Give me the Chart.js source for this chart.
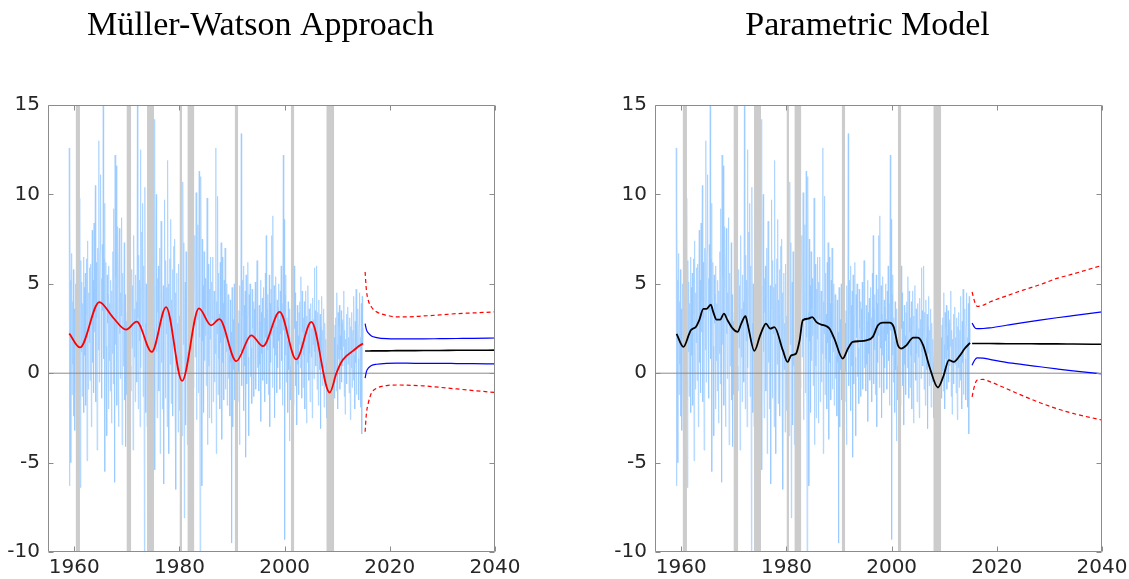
<!DOCTYPE html>
<html>
<head>
<meta charset="utf-8">
<script src="https://cdn.jsdelivr.net/npm/chart.js@4.4.1/dist/chart.umd.min.js"></script>
<style>
  html, body { margin: 0; padding: 0; background: #fff; }
  #wrap { position: relative; width: 1129px; height: 579px; overflow: hidden; }
  canvas { position: absolute; top: 0; }
</style>
</head>
<body>
<div id="wrap">
  <canvas id="mwChart" width="530" height="579" style="left:0"></canvas>
  <canvas id="pmChart" width="530" height="579" style="left:607px"></canvas>
</div>
<script>
// Axes
const xMin = 1955, xMax = 2040;
const xTicks = [1960, 1980, 2000, 2020, 2040];
const yTicks = [-10, -5, 0, 5, 10, 15];
const panelTitles = ['Müller-Watson Approach', 'Parametric Model'];

// NBER recessions, start / end as fractional years
const recessions = [
    [1960.25, 1961.08], [1969.92, 1970.83], [1973.83, 1975.17], [1980.0, 1980.5],
    [1981.5, 1982.83], [1990.5, 1991.17], [2001.17, 2001.83], [2007.92, 2009.42]
];

// Monthly growth rate, Jan 1959 - Dec 2014, one row per year
const startYear = 1959;
const monthlyGrowth = [
    12.6, -6.3, 8.4, 5.2, -5.0, 3.1, 6.7, -1.2, 4.0, 0.5, 5.8, -2.4,
    3.6, -3.2, 2.1, 5.0, -0.8, 1.4, -2.6, 3.2, -1.9, 0.9, 2.7, -1.5,
    4.2, 9.8, -6.4, 6.3, 1.2, 5.1, -1.3, 3.9, 2.4, 6.5, -2.2, 4.8,
    1.0, 5.6, -1.8, 3.3, 6.4, -4.9, 7.4, 2.0, -0.9, 4.5, 1.7, 5.9,
    -0.4, 3.8, 6.1, -3.0, 4.9, 8.0, 0.6, 5.2, -1.1, 8.4, 2.3, 4.0,
    10.5, -1.6, 6.2, 3.1, -4.3, 5.4, 7.0, 1.3, 13.0, -0.5, 4.6, 6.8,
    11.1, 2.6, 5.3, -1.4, 7.2, 3.5, 15.0, 0.8, 6.4, 9.5, -5.5, 4.1,
    6.2, 1.5, -3.5, 5.5, 2.8, 4.4, -2.0, 6.0, 0.7, 3.9, -1.0, 5.2,
    2.0, -2.8, 4.6, 1.1, 6.8, -0.6, 9.2, 3.0, -6.1, 12.2, 1.6, 5.4,
    11.6, -1.8, 4.8, 8.2, 0.9, -3.0, 5.7, 8.1, 2.2, -0.3, 4.5, 3.2,
    8.7, -4.0, 2.5, 5.6, 0.4, 3.7, 7.3, -1.5, 4.4, -4.1, 2.9, 1.0,
    -1.2, 3.4, -2.5, 1.8, 0.2, 2.9, -3.6, 1.5, 0.4, -1.0, 2.2, 5.8,
    1.4, 4.9, -4.3, 6.2, 7.7, 0.9, 3.6, -1.6, 5.5, 2.4, 4.0, -0.5,
    15.0, 3.1, -2.0, 6.6, 1.8, 5.2, -3.0, 12.5, 0.3, 4.7, 7.9, 2.6,
    9.5, -1.3, 4.2, 6.0, -10.0, 10.4, 2.8, -2.2, 5.0, 1.5, -3.0, 2.4,
    -1.5, 1.8, -3.7, 2.2, 0.5, -2.8, 3.0, -0.4, 1.6, -2.2, 0.2, -3.1,
    1.0, -2.0, 2.5, 14.2, -5.4, 4.8, 7.6, 10.0, 1.2, -2.5, 5.3, 3.4,
    6.0, -1.0, 4.2, 7.0, -4.5, 3.1, 8.5, 0.6, 5.4, -2.0, 2.7, 4.9,
    -6.2, 3.6, 9.7, 1.9, -1.4, 6.3, 2.2, 4.8, -3.0, 11.9, 0.8, 5.0,
    -4.5, 3.9, 6.4, 0.5, 8.6, -1.7, 4.1, 2.5, 5.8, -2.4, 3.2, 7.1,
    1.3, 7.5, -1.9, 4.5, -6.5, 3.0, 5.6, 0.2, 2.8, -3.3, 6.1, 1.5,
    -2.1, 3.2, -0.6, 2.4, -1.8, 1.0, -3.5, 4.0, 10.7, 1.6, 7.3, -8.1,
    2.6, 5.1, -2.9, 6.8, 0.4, 3.7, -4.0, 1.2, -1.5, 2.3, -2.7, 0.6,
    1.9, -3.2, 0.8, 2.6, -1.0, 3.5, -4.0, 1.4, -0.8, 2.0, 5.5, 7.7,
    0.9, 4.4, 10.1, -2.6, 6.2, 3.0, 8.3, -1.1, 5.7, 11.3, 2.0, -10.0,
    6.4, 11.0, 3.4, -6.3, 7.5, 1.8, 4.9, -2.2, 6.8, 0.7, 3.6, 5.3,
    2.1, -0.7, 4.3, 9.8, -4.0, 3.2, 6.1, 0.4, -2.5, 4.7, 1.9, 6.5,
    1.3, -2.8, 5.1, 3.0, 6.5, -1.6, 2.4, 4.6, -0.5, 3.8, 1.1, 12.6,
    -4.5, 4.0, 2.2, 9.9, -1.2, 5.6, 0.8, 3.3, -2.0, 6.2, 1.7, 7.3,
    4.1, -3.7, 6.5, 0.6, 3.9, -1.5, 5.2, 2.0, 7.0, -0.9, 3.4, 1.2,
    5.0, -1.8, 2.7, 4.4, -0.3, 3.5, 1.0, -2.4, 4.1, 0.6, 2.3, -9.5,
    4.8, 1.9, -3.0, 3.0, 0.2, 5.0, -1.5, 2.2, -0.8, 1.4, -2.0, 0.5,
    1.0, -1.6, 2.8, 0.1, 3.5, -4.0, 4.9, 1.2, 6.0, 13.4, -0.7, 3.3,
    5.2, 1.5, 6.0, -2.1, 3.8, 0.4, 4.6, -4.7, 5.5, 2.7, -0.6, 3.2,
    6.2, 0.9, -3.5, 4.4, 2.0, 5.0, -0.2, 3.1, 1.4, -1.7, 4.7, 2.5,
    0.6, 4.0, -1.3, 3.6, 1.9, 5.1, -0.9, 2.4, 4.5, 6.3, 0.3, 3.0,
    1.7, -1.0, 3.8, 0.5, 2.9, 5.2, -2.7, 3.4, 1.1, 4.2, -0.4, 2.6,
    4.8, 0.8, 3.1, -1.6, 5.6, 2.0, 7.7, -0.6, 3.6, 1.3, 4.4, -1.2,
    2.3, 5.5, -3.0, 3.9, 0.6, 4.7, 2.1, 7.7, -0.8, 8.8, 2.9, 1.4,
    4.9, -2.5, 3.3, 1.0, 5.4, 2.6, -1.1, 4.1, 0.3, 3.7, 5.0, 1.8,
    3.0, -0.9, 4.6, 2.2, 6.0, 0.7, 3.9, -1.8, 5.1, 12.2, 2.4, 8.6,
    -9.3, 4.4, 1.0, 5.5, -0.5, 3.1, 1.8, -2.2, 4.0, 0.2, 2.7, -3.8,
    3.6, 0.4, -1.5, 2.0, -3.0, 1.1, -0.6, 1.9, -1.8, 0.8, 6.0, 2.5,
    4.5, -0.7, 2.9, 1.2, -2.9, 3.8, 0.5, 2.1, -1.2, 3.4, 1.6, 4.0,
    0.3, 5.4, 1.8, -1.4, 4.6, 2.3, -0.8, 3.1, 1.0, 4.0, -2.0, 2.7,
    4.6, 1.5, -2.8, 3.2, 0.6, 4.9, 2.2, -0.4, 3.6, 1.1, -1.6, 2.8,
    3.9, 0.9, 2.5, -2.5, 4.2, 1.6, 3.0, -0.3, 5.9, 1.2, 3.5, 0.4,
    2.3, 6.0, -0.9, 3.4, 1.5, -1.8, 4.1, 2.0, 0.2, 3.3, -3.1, 2.6,
    1.1, 4.3, -0.7, 2.4, 0.3, 3.6, -1.9, 1.4, 2.8, -0.5, 1.9, 0.6,
    -2.5, 0.9, -1.3, 1.5, -0.2, 2.2, -2.4, 0.1, -1.6, 1.0, -3.0, -0.8,
    -4.0, 0.5, -1.9, 1.2, -0.7, 2.0, -1.4, 2.7, 0.1, 3.1, -1.0, 4.5,
    1.6, -2.0, 3.4, 0.8, 2.6, 3.8, -0.9, 2.1, 1.3, 3.5, -0.5, 2.8,
    0.4, 3.0, 1.5, 4.6, -1.3, 2.4, -2.3, 1.9, 0.7, 3.3, -0.6, 2.2,
    3.7, 0.5, 2.0, -1.1, 3.1, 1.2, -2.6, 2.6, 0.3, 3.4, -0.8, 1.8,
    2.4, -0.4, 4.3, 1.0, -2.0, 2.9, 0.6, 4.7, -1.2, 2.2, 1.4, 3.6,
    0.8, -1.5, 2.7, 4.5, 0.2, 2.0, -1.9, 3.9, -3.4, 4.3, 1.6, 2.5
];

// Müller-Watson low-frequency trend
const mwYears = [1959.05, 1961.08, 1964.76, 1967.3, 1969.84, 1971.87, 1974.73, 1977.46, 1980.5, 1983.7,
    1986.0, 1987.6, 1990.8, 1993.65, 1995.87, 1999.05, 2002.2, 2005.08, 2008.57, 2009.84,
    2010.8, 2011.7, 2013.0, 2013.9, 2014.9];
const mwTrend = [2.22, 1.44, 3.98, 3.14, 2.44, 2.89, 1.19, 3.70, -0.43, 3.62,
    2.68, 3.02, 0.67, 2.12, 1.51, 3.43, 0.77, 2.87, -1.08, 0.0,
    0.63, 0.95, 1.25, 1.47, 1.66];

// Müller-Watson forecast: median, 67% and 90% bands
const mwFcYears = [2015.3, 2015.55, 2015.9, 2016.5, 2017.5, 2019.4, 2021.3, 2023.2, 2026.4, 2029.5, 2032.7, 2035.9, 2040];
const mwFcMid = [1.24, 1.24, 1.24, 1.25, 1.25, 1.25, 1.26, 1.26, 1.27, 1.27, 1.28, 1.28, 1.29];
const mwFcHi67 = [2.77, 2.44, 2.25, 2.08, 1.99, 1.93, 1.92, 1.92, 1.92, 1.93, 1.94, 1.95, 1.97];
const mwFcLo67 = [-0.28, 0.09, 0.28, 0.43, 0.50, 0.55, 0.56, 0.56, 0.55, 0.55, 0.54, 0.53, 0.52];
const mwFcHi90 = [5.66, 4.64, 4.08, 3.70, 3.43, 3.24, 3.15, 3.15, 3.20, 3.26, 3.33, 3.37, 3.43];
const mwFcLo90 = [-3.27, -2.25, -1.68, -1.12, -0.84, -0.69, -0.66, -0.67, -0.71, -0.79, -0.88, -0.97, -1.08];

// Parametric model trend
const pmYears = [1959.1, 1960.4, 1961.5, 1961.8, 1962.8, 1963.4, 1964.2, 1964.8, 1965.6, 1966.1,
    1966.7, 1967.4, 1968.1, 1968.8, 1969.8, 1970.7, 1971.4, 1972.2, 1972.6, 1973.9,
    1974.9, 1975.5, 1976.1, 1976.9, 1977.7, 1979.3, 1980.2, 1980.9, 1981.8, 1982.5,
    1983.1, 1984.1, 1984.9, 1985.7, 1986.6, 1987.6, 1988.2, 1989.1, 1990.7, 1991.7,
    1992.6, 1993.9, 1995.2, 1996.4, 1997.4, 1998.3, 1999.6, 2000.4, 2001.2, 2001.8,
    2002.8, 2004.1, 2005.0, 2006.0, 2007.2, 2008.8, 2009.8, 2010.9, 2011.8, 2013.0,
    2013.9, 2014.9];
const pmTrend = [2.2, 1.47, 2.2, 2.4, 2.6, 2.95, 3.6, 3.6, 3.84, 3.4,
    3.0, 3.0, 3.33, 2.96, 2.49, 2.31, 2.77, 3.19, 2.77, 1.25,
    2.03, 2.49, 2.77, 2.49, 2.58, 1.29, 0.63, 1.0, 1.09, 1.84,
    2.96, 3.05, 3.14, 2.86, 2.72, 2.63, 2.49, 1.94, 0.82, 1.38,
    1.75, 1.79, 1.84, 2.03, 2.68, 2.83, 2.83, 2.58, 1.56, 1.38,
    1.56, 1.99, 1.99, 1.56, 0.35, -0.8, -0.2, 0.73, 0.63, 1.0,
    1.38, 1.69];

// Parametric model forecast
const pmFcYears = [2015.3, 2015.8, 2016.25, 2017.4, 2018.67, 2021.8, 2025.0, 2028.2, 2031.4, 2034.5, 2040];
const pmFcMid = [1.66, 1.66, 1.66, 1.66, 1.66, 1.65, 1.65, 1.64, 1.64, 1.63, 1.62];
const pmFcHi67 = [2.81, 2.55, 2.49, 2.50, 2.53, 2.68, 2.83, 2.97, 3.10, 3.22, 3.43];
const pmFcLo67 = [0.45, 0.74, 0.86, 0.84, 0.77, 0.61, 0.48, 0.36, 0.24, 0.13, -0.04];
const pmFcHi90 = [4.54, 3.98, 3.74, 3.80, 3.98, 4.32, 4.65, 4.95, 5.30, 5.55, 6.03];
const pmFcLo90 = [-1.32, -0.66, -0.39, -0.35, -0.47, -0.86, -1.27, -1.65, -1.98, -2.25, -2.62];

const toPoints = (xs, ys) => xs.map((x, i) => ({ x: x, y: ys[i] }));
const obsPoints = monthlyGrowth.map((v, i) => ({ x: startYear + i / 12, y: v }));

const axisGrey = '#8c8c8c';
const tickFont = { family: 'DejaVu Sans', size: 20 };

// Box around the axes, inward ticks and the panel title
const framePlugin = {
    id: 'frame',
    afterDatasetsDraw(chart) {
        const { ctx, chartArea: a, scales } = chart;
        ctx.save();
        ctx.strokeStyle = axisGrey;
        ctx.lineWidth = 1;
        ctx.beginPath();
        const l = Math.round(a.left) + 0.5, r = Math.round(a.right) - 0.5;
        const t = Math.round(a.top) + 0.5, b = Math.round(a.bottom) - 0.5;
        ctx.rect(l, t, r - l, b - t);
        xTicks.forEach(v => {
            const px = Math.round(scales.x.getPixelForValue(v)) + 0.5;
            ctx.moveTo(px, b); ctx.lineTo(px, b - 5);
            ctx.moveTo(px, t); ctx.lineTo(px, t + 5);
        });
        yTicks.forEach(v => {
            const py = Math.round(scales.y.getPixelForValue(v)) + 0.5;
            ctx.moveTo(l, py); ctx.lineTo(l + 5, py);
            ctx.moveTo(r, py); ctx.lineTo(r - 5, py);
        });
        ctx.stroke();
        ctx.restore();
    },
    afterDraw(chart, args, opts) {
        const { ctx, chartArea: a } = chart;
        ctx.save();
        ctx.fillStyle = '#000';
        ctx.font = '34px "Liberation Serif"';
        ctx.textAlign = 'center';
        ctx.textBaseline = 'alphabetic';
        ctx.fillText(opts.text, (a.left + a.right) / 2 - 11, 35);
        ctx.restore();
    }
};

function lineSet(data, color, width, dash, order) {
    return {
        data: data,
        borderColor: color,
        borderWidth: width,
        borderDash: dash,
        pointRadius: 0,
        fill: false,
        cubicInterpolationMode: 'monotone',
        order: order
    };
}

function makePanel(canvasId, title, trendPts, trendColor, fc, padRight) {
    const yMin = yTicks[0], yMax = yTicks[yTicks.length - 1];
    const bands = recessions.map(([s, e]) => ({
        data: [{ x: s, y: yMax }, { x: e, y: yMax }],
        borderColor: 'rgba(0,0,0,0)',
        borderWidth: 0,
        backgroundColor: '#cccccc',
        fill: { value: yMin },
        pointRadius: 0,
        order: 2
    }));
    const datasets = [
        lineSet(trendPts, trendColor, 1.8, [], 0),
        lineSet(toPoints(fc.years, fc.mid), '#000000', 1.6, [], 0),
        lineSet(toPoints(fc.years, fc.hi67), '#0000ff', 1.2, [], 0),
        lineSet(toPoints(fc.years, fc.lo67), '#0000ff', 1.2, [], 0),
        lineSet(toPoints(fc.years, fc.hi90), '#ff0000', 1.2, [4, 3], 0),
        lineSet(toPoints(fc.years, fc.lo90), '#ff0000', 1.2, [4, 3], 0),
        lineSet([{ x: xMin, y: 0 }, { x: xMax, y: 0 }], axisGrey, 1, [], 1),
        ...bands,
        {
            data: obsPoints,
            borderColor: 'rgba(150,200,255,0.6)',
            borderWidth: 1,
            pointRadius: 0,
            fill: false,
            tension: 0,
            order: 3
        }
    ];

    new Chart(document.getElementById(canvasId), {
        type: 'line',
        data: { datasets: datasets },
        options: {
            responsive: false,
            animation: false,
            devicePixelRatio: 1,
            events: [],
            layout: { padding: { top: 105, right: padRight, bottom: 0, left: 0 } },
            plugins: {
                legend: { display: false },
                tooltip: { enabled: false },
                frame: { text: title }
            },
            scales: {
                x: {
                    type: 'linear',
                    min: xMin,
                    max: xMax,
                    afterBuildTicks: s => { s.ticks = xTicks.map(v => ({ value: v })); },
                    afterFit: s => { s.height = 27; },
                    grid: { display: false, drawTicks: false },
                    border: { display: false },
                    ticks: { font: tickFont, color: '#262626', padding: 4, maxRotation: 0, callback: v => String(v) }
                },
                y: {
                    min: yTicks[0],
                    max: yTicks[yTicks.length - 1],
                    afterBuildTicks: s => { s.ticks = yTicks.map(v => ({ value: v })); },
                    afterFit: s => { s.width = 48; },
                    grid: { display: false, drawTicks: false },
                    border: { display: false },
                    ticks: { font: tickFont, color: '#262626', padding: 8, callback: v => String(v) }
                }
            }
        },
        plugins: [framePlugin]
    });
}

makePanel('mwChart', panelTitles[0], toPoints(mwYears, mwTrend), '#ff0000',
    { years: mwFcYears, mid: mwFcMid, hi67: mwFcHi67, lo67: mwFcLo67, hi90: mwFcHi90, lo90: mwFcLo90 }, 35);
makePanel('pmChart', panelTitles[1], toPoints(pmYears, pmTrend), '#000000',
    { years: pmFcYears, mid: pmFcMid, hi67: pmFcHi67, lo67: pmFcLo67, hi90: pmFcHi90, lo90: pmFcLo90 }, 35);
</script>
</body>
</html>
